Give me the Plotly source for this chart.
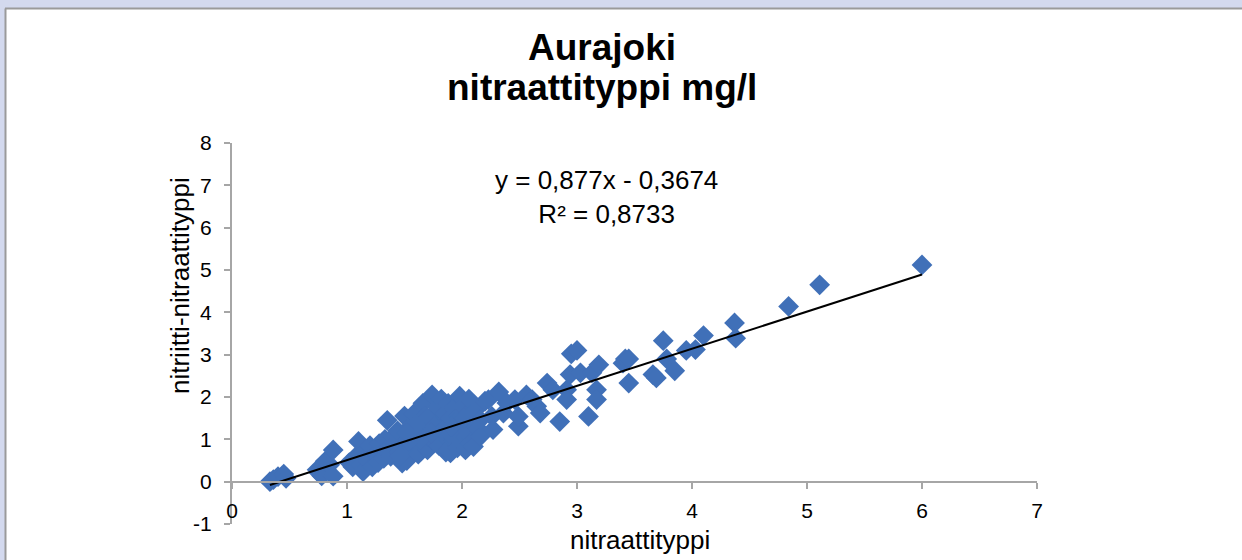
import plotly.graph_objects as go

# Scatter data (nitraattityppi vs nitriitti-nitraattityppi)
x_vals = [
    0.33, 0.36, 0.40, 0.45, 0.47,
    0.74, 0.76, 0.78, 0.81, 0.85, 0.88, 0.88,
    1.02, 1.05, 1.08, 1.10, 1.12, 1.14, 1.15, 1.18, 1.20, 1.22, 1.25, 1.27, 1.28,
    1.30, 1.32, 1.33, 1.35, 1.36, 1.38, 1.40, 1.42, 1.44, 1.45,
    1.48, 1.50, 1.52, 1.53, 1.55, 1.56, 1.58, 1.60, 1.62, 1.63, 1.65, 1.66, 1.67,
    1.68, 1.70, 1.71, 1.72, 1.74, 1.75, 1.76, 1.78, 1.79, 1.80, 1.81, 1.82, 1.84,
    1.85, 1.86, 1.87, 1.88, 1.90, 1.90, 1.92, 1.93, 1.95, 1.96, 1.97, 1.98, 1.99,
    2.00, 2.01, 2.02, 2.03, 2.04, 2.05, 2.06, 2.07, 2.08, 2.10, 2.12, 2.14, 2.16, 2.16,
    1.58, 1.64, 1.70, 1.76, 1.83, 1.89, 1.94, 1.54, 1.60, 1.73, 1.91, 2.02, 1.46, 1.52,
    2.20, 2.23, 2.26, 2.27, 2.32, 2.36, 2.39, 2.46, 2.49, 2.49, 2.56, 2.61, 2.65,
    2.68, 2.74, 2.79, 2.85, 2.91, 2.91, 2.94, 2.95, 3.00, 3.03, 3.10, 3.13, 3.17,
    3.17, 3.19, 3.40, 3.42, 3.45, 3.45, 3.66, 3.69, 3.75, 3.78, 3.85, 3.95, 4.03,
    4.10, 4.37, 4.38, 4.84, 5.11, 6.00,
]
y_vals = [
    0.00, 0.05, 0.12, 0.18, 0.08,
    0.28, 0.20, 0.14, 0.48, 0.40, 0.75, 0.13,
    0.45, 0.35, 0.60, 0.95, 0.40, 0.24, 0.70, 0.50, 0.85, 0.35, 0.65, 0.45, 0.90,
    0.75, 0.55, 1.00, 1.45, 0.80, 0.60, 1.05, 0.90, 1.20, 0.70,
    0.44, 1.55, 0.50, 1.00, 1.30, 0.80, 1.60, 1.10, 0.65, 1.40, 0.90, 1.85, 1.20,
    1.55, 0.75, 1.05, 1.35, 2.05, 1.60, 0.95, 1.25, 1.75, 0.85, 1.45, 1.95, 1.10,
    1.60, 0.70, 1.30, 1.85, 0.68, 1.50, 1.00, 1.75, 1.20, 0.80, 1.55, 2.02, 0.95,
    1.35, 1.78, 1.10, 0.75, 1.15, 1.60, 1.95, 0.90, 1.40, 0.83, 1.70, 1.25, 1.07, 1.46,
    1.20, 1.00, 1.50, 1.30, 1.20, 1.15, 1.40, 0.95, 1.35, 1.15, 1.30, 1.50, 0.60, 1.15,
    1.90, 1.94, 1.54, 1.23, 2.12, 1.62, 1.86, 1.94, 1.31, 1.54, 2.05, 1.94, 1.78,
    1.62, 2.33, 2.17, 1.42, 2.17, 1.94, 2.53, 3.02, 3.10, 2.57, 1.54, 2.57, 2.17,
    1.94, 2.76, 2.80, 2.90, 2.33, 2.90, 2.53, 2.45, 3.33, 2.90, 2.62, 3.10, 3.12,
    3.45, 3.75, 3.39, 4.14, 4.65, 5.12,
]

# Trendline coefficients and R² as printed on the chart
slope = 0.877
intercept = -0.3674
eq_text = "y = 0,877x - 0,3674<br>R² = 0,8733"

title_lines = ["Aurajoki", "nitraattityppi mg/l"]
x_title = "nitraattityppi"
y_title = "nitriitti-nitraattityppi"
x_ticks = [0, 1, 2, 3, 4, 5, 6, 7]
y_ticks = [-1, 0, 1, 2, 3, 4, 5, 6, 7, 8]

FONT = "Arial, 'Liberation Sans', Helvetica, sans-serif"
MARKER = "#4070B8"

x_line = [min(x_vals), max(x_vals)]
y_line = [slope * v + intercept for v in x_line]

fig = go.Figure()
fig.add_trace(go.Scatter(
    x=x_vals, y=y_vals, mode="markers",
    marker=dict(symbol="diamond", size=16, color=MARKER, line=dict(width=0)),
    showlegend=False, hoverinfo="x+y",
))
fig.add_trace(go.Scatter(
    x=x_line, y=y_line, mode="lines",
    line=dict(color="black", width=2),
    showlegend=False, hoverinfo="skip",
))

# Plot area pixel geometry: left 232, right 1037, top 143, bottom 524
L, R, T, B = 232, 205, 143, 36
PW, PH = 1242 - L - R, 560 - T - B


def px(p):
    return (p - L) / PW


def py(q):
    return (560 - B - q) / PH


shapes = [
    dict(type="rect", xref="paper", yref="paper", layer="below",
         x0=px(6), x1=px(1300), y0=py(600), y1=py(9),
         fillcolor="white", line=dict(width=0)),
    dict(type="line", xref="paper", yref="paper", layer="below",
         x0=px(5.5), x1=px(5.5), y0=py(600), y1=py(8.5),
         line=dict(color="#9a9a9a", width=2)),
    dict(type="line", xref="paper", yref="paper", layer="below",
         x0=px(5), x1=px(1300), y0=py(8.5), y1=py(8.5),
         line=dict(color="#9a9a9a", width=2)),
]

annotations = [
    dict(text="<b>" + title_lines[0] + "</b>", xref="paper", yref="paper",
         x=px(602), y=py(47), showarrow=False, xanchor="center", yanchor="middle",
         font=dict(family=FONT, size=37, color="black")),
    dict(text="<b>" + title_lines[1] + "</b>", xref="paper", yref="paper",
         x=px(602), y=py(88), showarrow=False, xanchor="center", yanchor="middle",
         font=dict(family=FONT, size=37, color="black")),
    dict(text=eq_text, xref="paper", yref="paper",
         x=px(606), y=py(197), showarrow=False, xanchor="center", yanchor="middle",
         align="center", font=dict(family=FONT, size=26, color="black")),
    dict(text=x_title, xref="paper", yref="paper",
         x=px(640), y=py(540), showarrow=False, xanchor="center", yanchor="middle",
         font=dict(family=FONT, size=26, color="black")),
    dict(text=y_title, xref="paper", yref="paper", textangle=-90,
         x=px(180), y=py(286), showarrow=False, xanchor="center", yanchor="middle",
         font=dict(family=FONT, size=26, color="black")),
]

fig.update_layout(
    width=1242, height=560,
    margin=dict(l=L, r=R, t=T, b=B, pad=0),
    paper_bgcolor="#D3D9EE",
    plot_bgcolor="rgba(0,0,0,0)",
    shapes=shapes,
    annotations=annotations,
    xaxis=dict(
        range=[0, 7], tickvals=x_ticks, ticktext=[str(v) for v in x_ticks],
        showgrid=False, zeroline=False, showline=True, linecolor="#A6A6A6", linewidth=2,
        ticks="outside", ticklen=6, tickcolor="#A6A6A6", tickwidth=1.5,
        anchor="free", position=1 / 9, ticklabelstandoff=4,
        tickfont=dict(family=FONT, size=21, color="black"),
    ),
    yaxis=dict(
        range=[-1, 8], tickvals=y_ticks, ticktext=[str(v) for v in y_ticks],
        showgrid=False, zeroline=False, showline=True, linecolor="#A6A6A6", linewidth=2,
        ticks="outside", ticklen=6, tickcolor="#A6A6A6", tickwidth=1.5,
        ticklabelstandoff=8,
        tickfont=dict(family=FONT, size=21, color="black"),
    ),
)

fig.write_html(
    "out.html",
    config={"displayModeBar": False},
    post_script="document.body.style.margin='0';document.body.style.overflow='hidden';",
)
